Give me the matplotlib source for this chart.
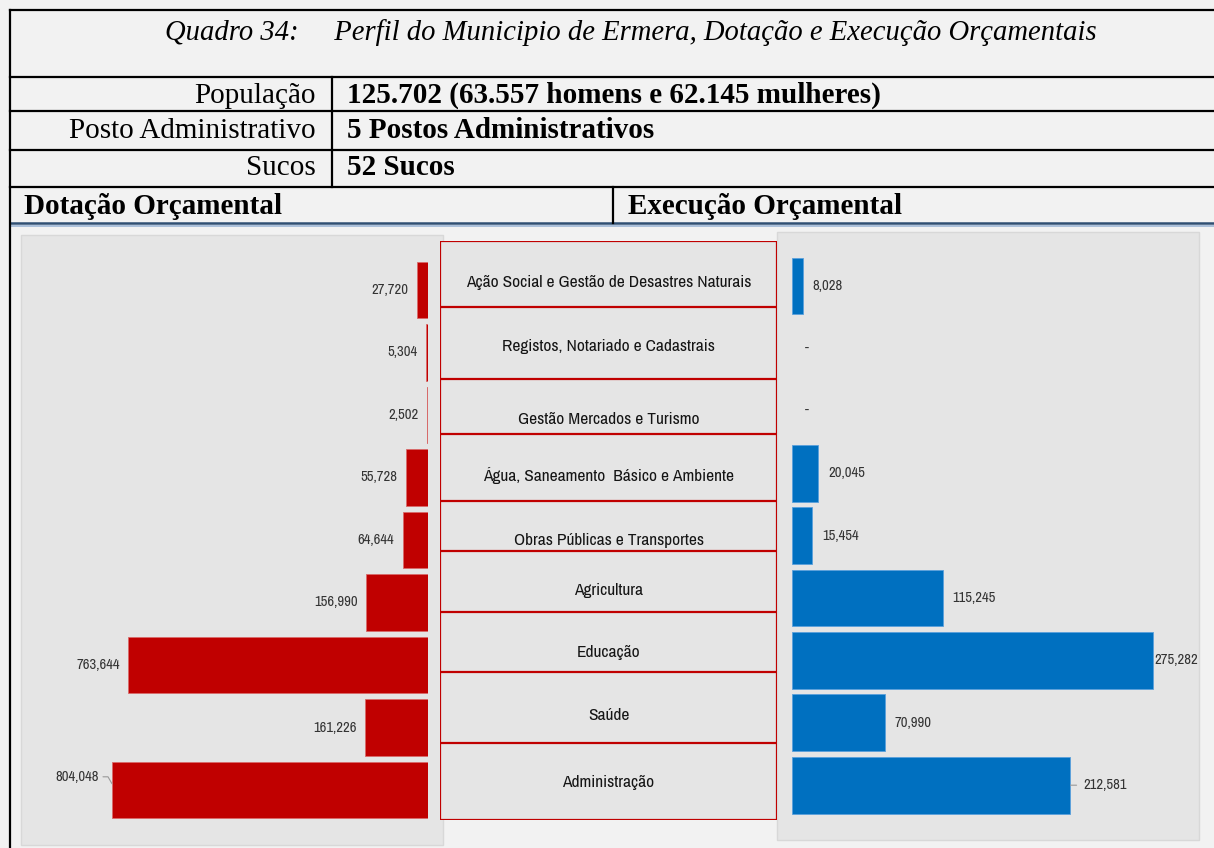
import matplotlib
matplotlib.use("Agg")
import matplotlib.pyplot as plt
from matplotlib.patches import Rectangle
from matplotlib.lines import Line2D
from matplotlib import font_manager

# ---------------- data ----------------
categories = [
    "Ação Social e Gestão de Desastres Naturais",
    "Registos, Notariado e Cadastrais",
    "Gestão Mercados e Turismo",
    "Água, Saneamento  Básico e Ambiente",
    "Obras Públicas e Transportes",
    "Agricultura",
    "Educação",
    "Saúde",
    "Administração",
]
dotacao = [27720, 5304, 2502, 55728, 64644, 156990, 763644, 161226, 804048]
execucao = [8028, 0, 0, 20045, 15454, 115245, 275282, 70990, 212581]

title = "Quadro 34:     Perfil do Municipio de Ermera, Dotação e Execução Orçamentais"
row_labels = ["População", "Posto Administrativo", "Sucos"]
row_values = ["125.702 (63.557 homens e 62.145 mulheres)", "5 Postos Administrativos", "52 Sucos"]
section_left = "Dotação Orçamental"
section_right = "Execução Orçamental"

RED = "#C00000"
BLUE = "#0070C0"
LBL = "#333333"

# pick a narrow sans font if one is installed
narrow = None
stretch_kw = {}
for f in font_manager.fontManager.ttflist:
    if "Narrow" in f.name or "Condensed" in f.name:
        narrow = f.name
        break
if narrow is None:
    for f in font_manager.fontManager.ttflist:
        if str(f.stretch).lower() in ("condensed", "semi-condensed", "semicondensed") and f.name == "DejaVu Sans":
            narrow = "DejaVu Sans"
            stretch_kw = {"fontstretch": "condensed"}
            break
if narrow is None:
    NARROW = "Liberation Sans"
    CAT_FS = 10.3
    VAL_FS = 9
else:
    NARROW = narrow
    CAT_FS = 12.5
    VAL_FS = 10.5
SERIF = "Liberation Serif"

W, H = 1214, 848
fig = plt.figure(figsize=(W / 100, H / 100), dpi=100)
fig.patch.set_facecolor("#f2f2f2")


def fx(x):
    return x / W


def fy(y):
    return 1 - y / H


def hline(y, x0, x1, color="black", lw=1.6):
    fig.add_artist(Line2D([fx(x0), fx(x1)], [fy(y), fy(y)], color=color, lw=lw,
                          transform=fig.transFigure))


def vline(x, y0, y1, color="black", lw=1.6):
    fig.add_artist(Line2D([fx(x), fx(x)], [fy(y0), fy(y1)], color=color, lw=lw,
                          transform=fig.transFigure))


def ftext(x, y, s, **kw):
    fig.text(fx(x), fy(y), s, **kw)


# ---------------- table header ----------------
ftext(631, 40, title, family=SERIF, style="italic", fontsize=20.6, ha="center", va="baseline")
baselines = [103, 138, 175]
for lab, val, yb in zip(row_labels, row_values, baselines):
    ftext(316, yb, lab, family=SERIF, fontsize=21, ha="right", va="baseline")
    ftext(347, yb, val, family=SERIF, fontsize=21, weight="bold", ha="left", va="baseline")
ftext(24, 214, section_left, family=SERIF, fontsize=21, weight="bold", ha="left", va="baseline")
ftext(628, 214, section_right, family=SERIF, fontsize=21, weight="bold", ha="left", va="baseline")

for y in [10, 77, 111, 150, 187]:
    hline(y, 10, W)
hline(223, 10, W, color="#2f4f73", lw=1.8)
hline(225.5, 10, W, color="#9db7d6", lw=1.2)
vline(10, 10, H)
vline(332, 77, 187)
vline(613, 187, 223)

# ---------------- panels ----------------
fig.add_artist(Rectangle((fx(21), fy(845)), fx(443) - fx(21), fy(235) - fy(845),
                         transform=fig.transFigure, facecolor="#e5e5e5",
                         edgecolor="#d8d8d8", lw=1, zorder=0))
fig.add_artist(Rectangle((fx(777), fy(840)), fx(1199) - fx(777), fy(232) - fy(840),
                         transform=fig.transFigure, facecolor="#e5e5e5",
                         edgecolor="#d8d8d8", lw=1, zorder=0))

n = len(categories)
idx = list(range(n))
lab_kw = dict(fontsize=VAL_FS, color=LBL, family=NARROW, **stretch_kw)

# ---------------- left chart (Dotação) ----------------
top_px, bot_px = 235, 845
axL = fig.add_axes([fx(21), fy(bot_px), fx(428) - fx(21), fy(top_px) - fy(bot_px)])
axL.patch.set_alpha(0)
axL.barh(idx, dotacao, height=0.91, color=RED, edgecolor="#d86a6a", lw=0.6)
c0, sp = 290, 62.5
axL.set_ylim((bot_px - c0) / sp, (top_px - c0) / sp)
axL.set_xlim(407 / 3.93e-4, 0)
axL.axis("off")
for i, v in enumerate(dotacao):
    lab = f"{v:,}"
    if i == n - 1:
        axL.annotate(lab, xy=(v, i - 0.1), xytext=(-9.5, 5), textcoords="offset points",
                     ha="right", va="center",
                     arrowprops=dict(arrowstyle="-", color="#999999", lw=0.8,
                                     connectionstyle="angle,angleA=0,angleB=-60,rad=0",
                                     shrinkA=1, shrinkB=0), **lab_kw)
    else:
        axL.annotate(lab, xy=(v, i), xytext=(-6, 0), textcoords="offset points",
                     ha="right", va="center", **lab_kw)

# ---------------- right chart (Execução) ----------------
axR = fig.add_axes([fx(792), fy(bot_px), fx(1200) - fx(792), fy(top_px) - fy(bot_px)])
axR.patch.set_alpha(0)
for i, v in enumerate(execucao):
    if v > 0:
        axR.barh(i, v, height=0.91, color=BLUE, edgecolor="#5aa0dc", lw=0.6)
c0r, spr = 286, 62.4
axR.set_ylim((bot_px - c0r) / spr, (top_px - c0r) / spr)
axR.set_xlim(0, 408 / 1.31e-3)
axR.axis("off")
for i, v in enumerate(execucao):
    if v == 0:
        axR.annotate("-", xy=(v, i), xytext=(9, 0), textcoords="offset points",
                     ha="left", va="center", **lab_kw)
    elif i == n - 1:
        axR.annotate(f"{v:,}", xy=(v, i), xytext=(9.4, 0), textcoords="offset points",
                     ha="left", va="center",
                     arrowprops=dict(arrowstyle="-", color="#999999", lw=0.8,
                                     shrinkA=3, shrinkB=0), **lab_kw)
    elif v > 250000:
        axR.annotate(f"{v:,}", xy=(v, i), xytext=(1, 0), textcoords="offset points",
                     ha="left", va="center", **lab_kw)
    else:
        axR.annotate(f"{v:,}", xy=(v, i), xytext=(7, 0), textcoords="offset points",
                     ha="left", va="center", **lab_kw)

# ---------------- center category boxes ----------------
bounds = [241, 307, 379, 434, 501, 551, 612, 672, 743, 820]
text_y = [282, 347, 420, 475, 540, 590, 652, 716, 783]
axC = fig.add_axes([fx(440), fy(820), fx(777) - fx(440), fy(241) - fy(820)])
axC.patch.set_facecolor("#e5e5e5")
axC.set_xlim(0, 1)
axC.set_ylim(820, 241)
axC.axis("off")
axC.add_patch(Rectangle((0, 241), 1, 579, facecolor="#e5e5e5", edgecolor="none", zorder=0))
for b in bounds:
    axC.axhline(b, color=RED, lw=1.6)
axC.axvline(0, color=RED, lw=1.6)
axC.axvline(1, color=RED, lw=1.6)
for cat, ty in zip(categories, text_y):
    axC.text(0.5, ty, cat, ha="center", va="center", fontsize=CAT_FS, color="#151515",
             family=NARROW, **stretch_kw)

fig.savefig("out.png", dpi=100, facecolor=fig.get_facecolor())
